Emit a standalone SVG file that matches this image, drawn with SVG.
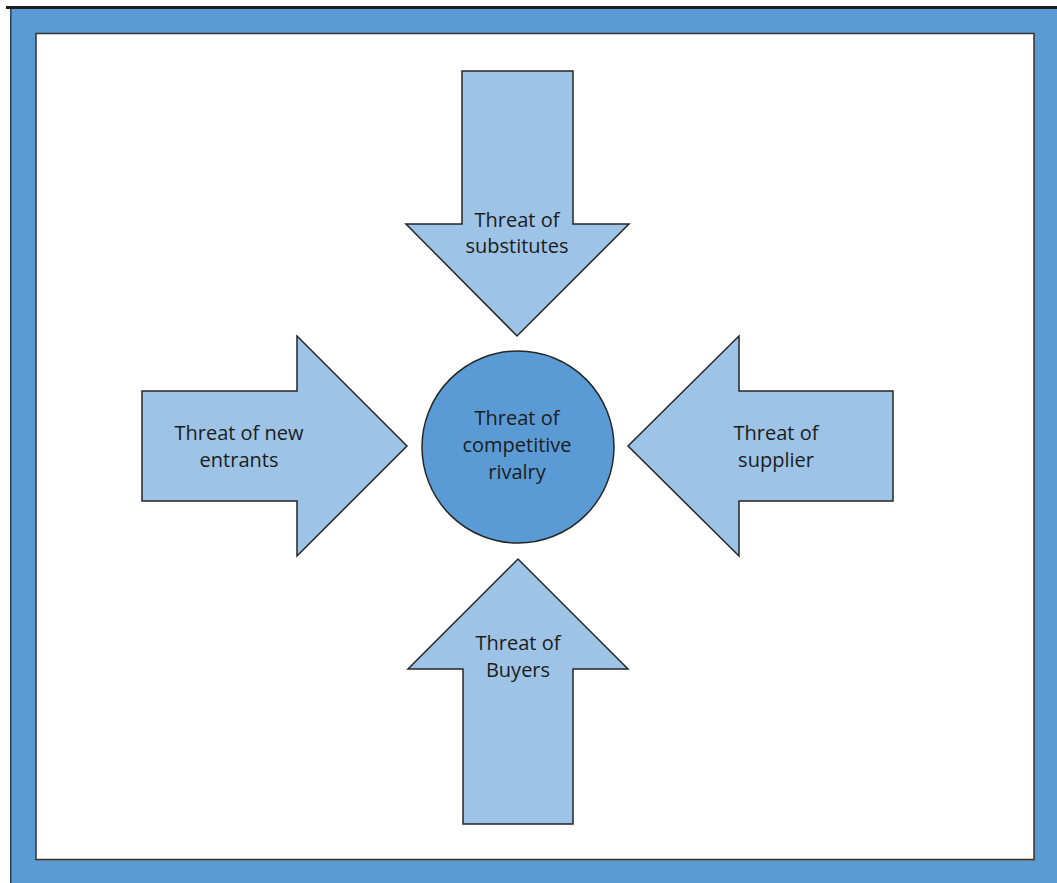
<svg xmlns="http://www.w3.org/2000/svg" width="1057" height="883" viewBox="0 0 1057 883">
<style>
.arrow{fill:#9DC3E6;stroke:#262626;stroke-width:1.5;stroke-linejoin:miter}
.hub{fill:#5B9BD5;stroke:#262626;stroke-width:1.5}
.lbl{font-family:"Open Sans","Liberation Sans",Arial,sans-serif;font-size:20px;fill:#1c1c1c;text-anchor:middle}
</style>
<rect x="0" y="0" width="1057" height="883" fill="#ffffff"/>
<g id="frame">
<rect x="10" y="8" width="1047" height="875" fill="#5B9BD5"/>
<rect x="6" y="6" width="1051" height="3" fill="#1e1e1e"/>
<rect x="10" y="9" width="1.5" height="874" fill="#2a3f55"/>
<rect x="37" y="35" width="999" height="826" fill="#8a8a8a"/>
<rect x="36" y="33.5" width="998" height="826" fill="#ffffff" stroke="#333333" stroke-width="1.5"/>
</g>
<g id="connectors"></g>
<g id="node-substitutes">
<polygon class="arrow" points="462,71 573,71 573,224 629,224 517,336 406,224 462,224"/>
<text class="lbl" x="517" y="227">Threat of</text>
<text class="lbl" x="517" y="253">substitutes</text>
</g>
<g id="node-new-entrants">
<polygon class="arrow" points="142,391 297,391 297,336 407,446 297,556 297,501 142,501"/>
<text class="lbl" x="239" y="440">Threat of new</text>
<text class="lbl" x="239" y="467">entrants</text>
</g>
<g id="node-supplier">
<polygon class="arrow" points="893,391 739,391 739,336 628,446 739,556 739,501 893,501"/>
<text class="lbl" x="776" y="440">Threat of</text>
<text class="lbl" x="776" y="467">supplier</text>
</g>
<g id="node-buyers">
<polygon class="arrow" points="463,824 573,824 573,669 628,669 518,559 408,669 463,669"/>
<text class="lbl" x="518" y="650">Threat of</text>
<text class="lbl" x="518" y="677">Buyers</text>
</g>
<g id="node-rivalry">
<circle class="hub" cx="518" cy="447" r="96"/>
<text class="lbl" x="517" y="425">Threat of</text>
<text class="lbl" x="517" y="452">competitive</text>
<text class="lbl" x="517" y="479">rivalry</text>
</g>
</svg>
